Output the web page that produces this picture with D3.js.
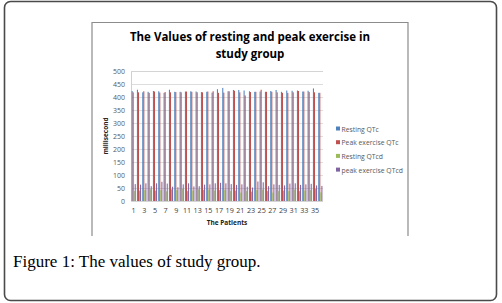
<!DOCTYPE html>
<html><head><meta charset="utf-8">
<script src="https://cdn.jsdelivr.net/npm/d3@7"></script>
<style>html,body{margin:0;padding:0;background:#fff;}svg{display:block;}</style>
</head><body>
<svg id="c" width="502" height="303"></svg>
<script>
const patients = d3.range(1, 37);
const seriesNames = ["Resting QTc", "Peak exercise QTc", "Resting QTcd", "peak exercise QTcd"];
const restingQTc = [423,428,418,420,423,422,416,428,420,420,421,422,421,419,420,417,430,435,422,427,427,425,422,420,421,420,423,427,420,425,424,425,421,424,433,416];
const peakQTc    = [418,418,422,416,421,417,419,418,419,418,421,420,418,418,421,422,416,417,422,424,418,406,419,420,428,420,420,418,416,416,418,423,421,419,418,416];
const restingQTcd= [38,40,42,45,40,42,37,45,42,47,38,40,45,43,44,40,42,43,38,40,32,38,36,42,44,38,32,38,40,38,44,38,40,42,48,33];
const peakQTcd   = [65,63,68,57,68,74,67,55,53,64,68,56,57,63,64,68,70,68,65,62,64,55,52,75,72,57,64,62,60,67,68,62,64,66,60,58];
const yTicks = [0,50,100,150,200,250,300,350,400,450,500];
const xTickLabels = patients.filter(p => p % 2 === 1);
const colors = ["#4F81BD", "#C0504D", "#9BBB59", "#8064A2"];
const allSeries = [restingQTc, peakQTc, restingQTcd, peakQTcd];

const svg = d3.select("#c");
svg.append("rect").attr("x",4.5).attr("y",1.5).attr("width",492).attr("height",299)
  .attr("rx",6).attr("fill","#fff").attr("stroke","#4a4a4a").attr("stroke-width",1.6);
svg.append("path").attr("d","M92,236V22.5H408V236").attr("fill","none").attr("stroke","#8c8c8c").attr("stroke-width",1.2);

const title = svg.append("text").attr("text-anchor","middle").attr("font-family","'Open Sans', sans-serif")
  .attr("font-weight","bold").attr("font-size",11.5).attr("fill","#000");
title.append("tspan").attr("x",250).attr("y",41).text("The Values of resting and peak exercise in");
title.append("tspan").attr("x",250).attr("y",58).text("study group");

const pL = 131, pR = 323, pT = 71, pB = 201;
const y = d3.scaleLinear().domain([0,500]).range([pB, pT]);
const x = d3.scaleBand().domain(patients).range([pL, pR]).paddingInner(0.22).paddingOuter(0.11);
const xs = d3.scaleBand().domain(d3.range(4)).range([0, x.bandwidth()]);

const yAxis = d3.axisLeft(y).tickValues(yTicks).tickSize(-(pR-pL)).tickPadding(6);
const gy = svg.append("g").attr("transform",`translate(${pL},0)`).call(yAxis);
gy.select(".domain").attr("stroke","#d0d0d0");
gy.selectAll(".tick line").attr("stroke","#d4d4d4").attr("stroke-width",0.8);
gy.selectAll(".tick text").attr("font-family","'Open Sans', sans-serif").attr("font-size",7).attr("fill","#595959");

allSeries.forEach((vals, si) => {
  svg.append("g").selectAll("rect").data(patients).join("rect")
    .attr("x", p => x(p) + xs(si))
    .attr("width", xs.bandwidth())
    .attr("y", (p,i) => y(vals[i]))
    .attr("height", (p,i) => y(0) - y(vals[i]))
    .attr("fill", colors[si]);
});

const xAxis = d3.axisBottom(x).tickValues(xTickLabels).tickSize(0).tickPadding(7);
const gx = svg.append("g").attr("transform",`translate(0,${pB})`).call(xAxis);
gx.select(".domain").remove();
gx.selectAll(".tick text").attr("font-family","'Open Sans', sans-serif").attr("font-size",7.2).attr("fill","#404040");

svg.append("text").attr("x",227).attr("y",225).attr("text-anchor","middle")
  .attr("font-family","'Open Sans', sans-serif").attr("font-weight","bold").attr("font-size",6.5).attr("fill","#222")
  .text("The Patients");
svg.append("text").attr("transform","translate(108,136) rotate(-90)").attr("text-anchor","middle")
  .attr("font-family","'Open Sans', sans-serif").attr("font-weight","bold").attr("font-size",6.5).attr("fill","#222")
  .text("millisecond");

const lg = svg.append("g").selectAll("g").data(seriesNames).join("g")
  .attr("transform",(d,i)=>`translate(336,${129 + i*13.7})`);
lg.append("rect").attr("x",0).attr("y",-2.5).attr("width",4).attr("height",4).attr("fill",(d,i)=>colors[i]);
lg.append("text").attr("x",5.5).attr("y",2.5).attr("font-family","'Open Sans', sans-serif").attr("font-size",6.8)
  .attr("fill","#595959").text(d=>d);

svg.append("text").attr("x",13).attr("y",267).attr("font-family","'Liberation Serif', serif")
  .attr("font-size",17).attr("fill","#000").text("Figure 1: The values of study group.");
</script>
</body></html>
